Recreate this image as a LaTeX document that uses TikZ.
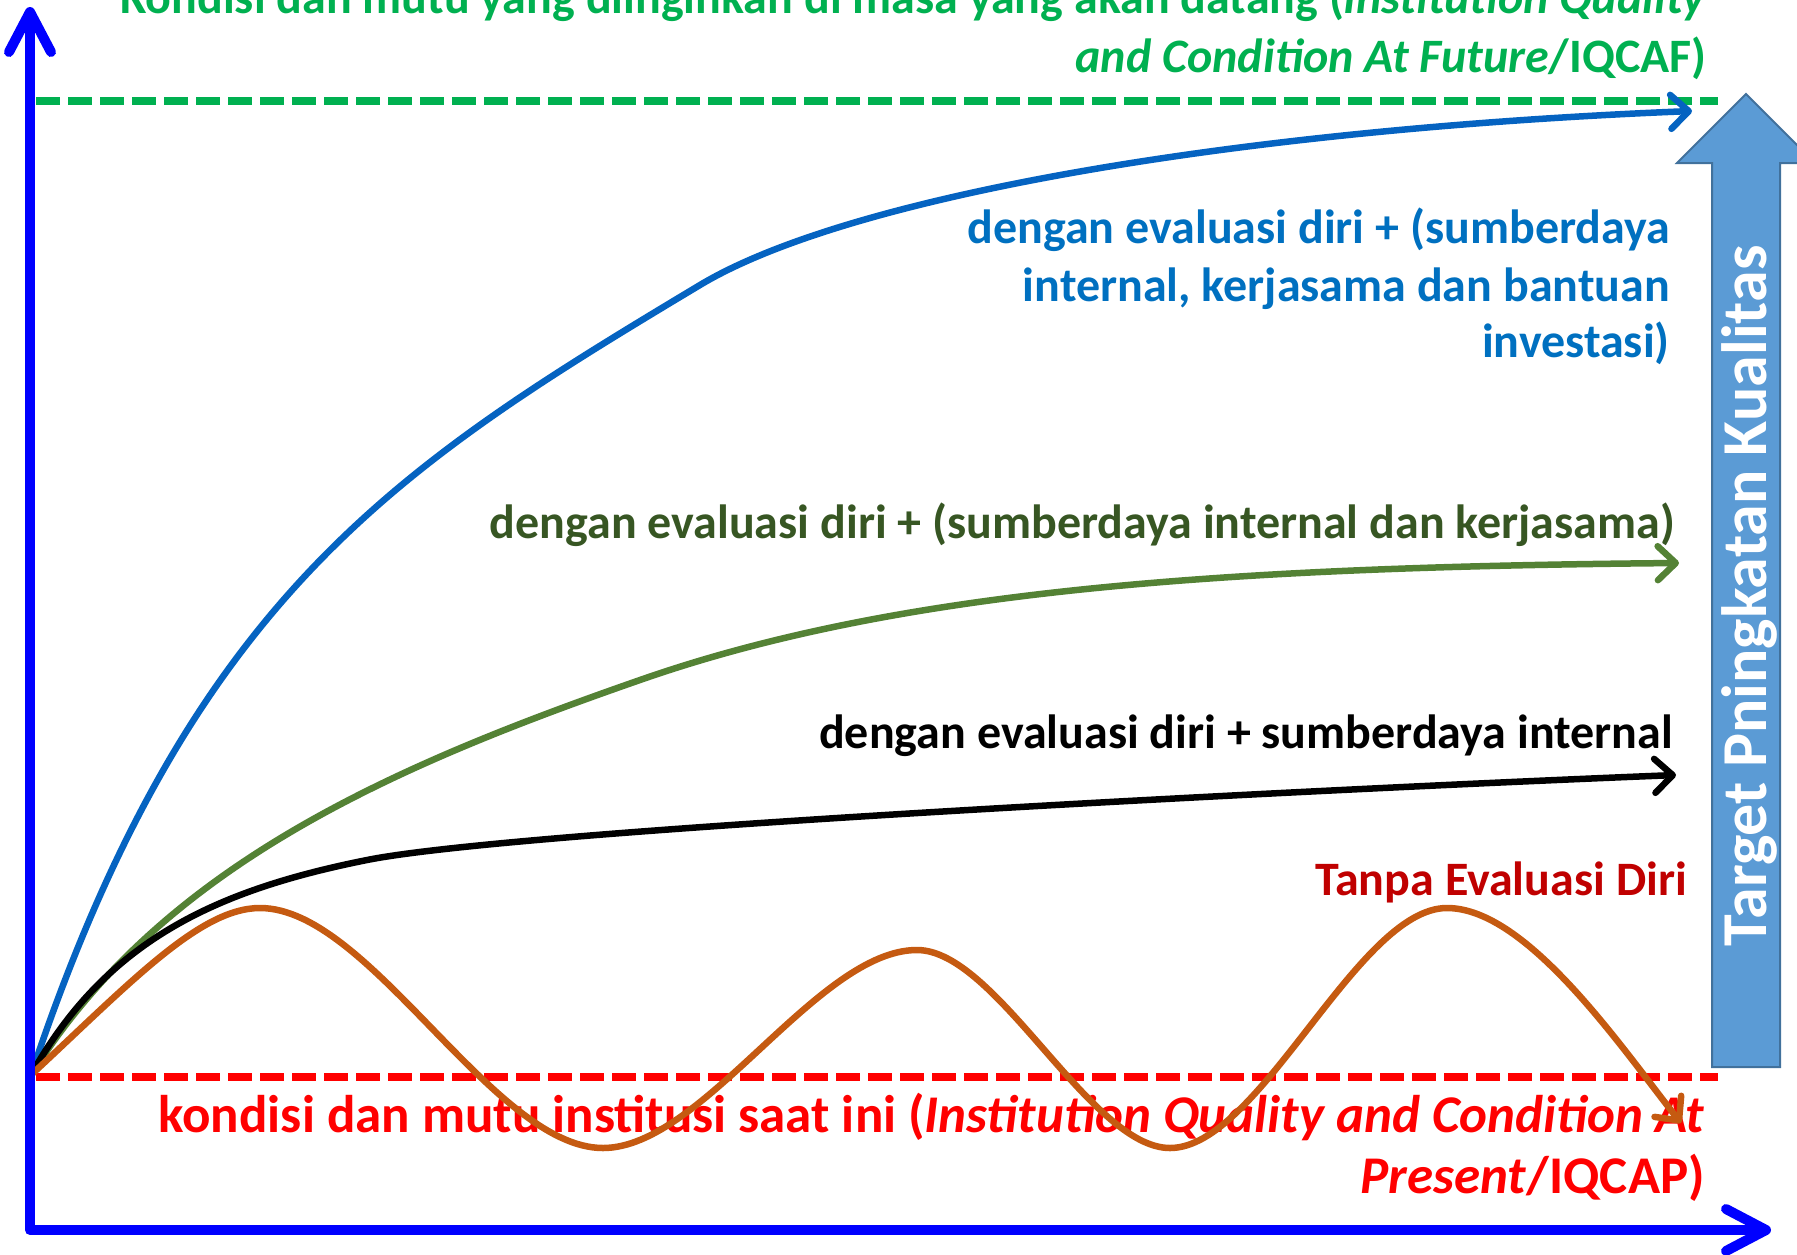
\documentclass[tikz,border=0pt]{standalone}
\usepackage{fontspec}
\setmainfont{Carlito}
\usetikzlibrary{arrows.meta}
\definecolor{axisblue}{HTML}{0000FF}
\definecolor{futgreen}{HTML}{00B050}
\definecolor{presred}{HTML}{FF0000}
\definecolor{curveblue}{HTML}{0563C1}
\definecolor{textblue}{HTML}{0070C0}
\definecolor{curvegreen}{HTML}{548235}
\definecolor{textgreen}{HTML}{375623}
\definecolor{curveorange}{HTML}{C55A11}
\definecolor{darkred}{HTML}{C00000}
\definecolor{arrowfill}{HTML}{5B9BD5}
\definecolor{arrowline}{HTML}{41719C}
\begin{document}
\begin{tikzpicture}[x=1pt,y=-1pt,
  lbl/.style={font=\fontsize{48}{57}\selectfont\bfseries, anchor=base east, inner sep=0pt},
  biglbl/.style={font=\fontsize{53}{61}\selectfont\bfseries, anchor=base east, inner sep=0pt},
  levelline/.style={line width=8pt, dash pattern=on 24pt off 8pt},
  curve/.style={line width=6.5pt, line cap=round, line join=round,
     -{Straight Barb[length=18pt,width=34pt,round]}},
  axisline/.style={axisblue, line width=10pt, line join=round,
     {Straight Barb[length=40pt,width=42pt,round]}-{Straight Barb[length=40pt,width=42pt,round]}}
]
\useasboundingbox (0,0) rectangle (1797,1254);
\clip (0,0) rectangle (1797,1254);

% key coordinates
\coordinate (O) at (31,1075);
\coordinate (ytip) at (30,7);
\coordinate (corner) at (30,1230);
\coordinate (xtip) at (1771,1230);
\coordinate (fs) at (36,101);
\coordinate (fe) at (1718,101);
\coordinate (ps) at (36,1077);
\coordinate (pe) at (1718,1077);
\coordinate (bm) at (700,285);
\coordinate (be) at (1692,111);
\coordinate (gm) at (640,680);
\coordinate (ge) at (1679,563);
\coordinate (km) at (367,860);
\coordinate (ke) at (1676,775);
\coordinate (op1) at (260,908);
\coordinate (ot1) at (603,1148);
\coordinate (op2) at (917,950);
\coordinate (ot2) at (1170,1148);
\coordinate (op3) at (1447,908);
\coordinate (oe) at (1681,1123);

% level lines
\draw[levelline, futgreen] (fs) -- (fe);
\draw[levelline, presred] (ps) -- (pe);

% texts
\node[lbl, futgreen] (fut1) at (1707,13) {Kondisi dan mutu yang diinginkan di masa yang akan datang (\textit{Institution Quality}};
\node[lbl, futgreen] (fut2) at (1707,72) {\textit{and Condition At Future}/IQCAF)};
\node[lbl, textblue] (b1) at (1670,243) {dengan evaluasi diri + (sumberdaya};
\node[lbl, textblue] (b2) at (1670,301) {internal, kerjasama dan bantuan};
\node[lbl, textblue] (b3) at (1670,357) {investasi)};
\node[lbl, textgreen] (g1) at (1675,538) {dengan evaluasi diri + (sumberdaya internal dan kerjasama)};
\node[lbl, black] (k1) at (1673,748) {dengan evaluasi diri + sumberdaya internal};
\node[lbl, darkred] (r1) at (1687,895) {Tanpa Evaluasi Diri};
\node[biglbl, presred] (p1) at (1705,1132) {kondisi dan mutu institusi saat ini (\textit{Institution Quality and Condition At}};
\node[biglbl, presred] (p2) at (1705,1193) {\textit{Present}/IQCAP)};

% curves
\draw[curve, curveblue] (O) .. controls (191,595) and (400,465) .. (bm)
   .. controls (850,195) and (1242,129) .. (be);
\draw[curve, curvegreen] (O) .. controls (161,867) and (390,767) .. (gm)
   .. controls (900,589) and (1229,567) .. (ge);
\draw[curve, black] (O) .. controls (106,940) and (217,890) .. (km)
   .. controls (517,830) and (1300,790) .. (ke);
\draw[curve, curveorange] (O) .. controls (131,982) and (200,908) .. (op1)
   .. controls (370,908) and (493,1148) .. (ot1)
   .. controls (703,1148) and (817,950) .. (op2)
   .. controls (997,950) and (1090,1148) .. (ot2)
   .. controls (1260,1148) and (1357,908) .. (op3)
   .. controls (1527,908) and (1621,1047) .. (oe);

% axes
\draw[axisline] (ytip) -- (corner) -- (xtip);

% big target arrow
\draw[fill=arrowfill, draw=arrowline, line width=2pt, line join=miter]
  (1712,1067) -- (1712,163) -- (1677,163) -- (1746,94) -- (1815,163) -- (1780,163) -- (1780,1067) -- cycle;
\node[font=\fontsize{64}{68}\selectfont\bfseries, text=white, rotate=90, inner sep=0pt] (tgt) at (1749,596) {Target Pningkatan Kualitas};
\end{tikzpicture}
\end{document}
